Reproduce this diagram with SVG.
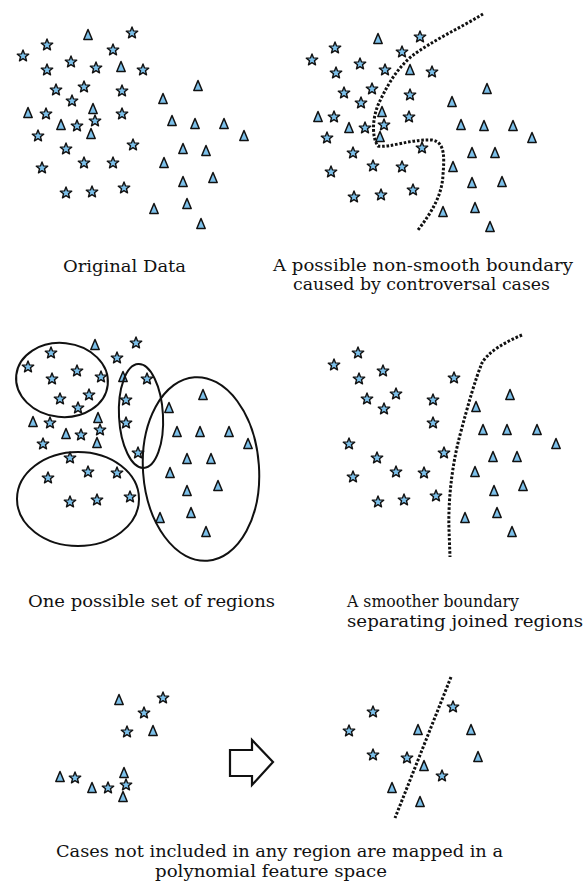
<svg xmlns="http://www.w3.org/2000/svg" xmlns:xlink="http://www.w3.org/1999/xlink" width="586" height="891" viewBox="0 0 586 891">
<style>
.cap{font-family:"DejaVu Serif","Liberation Serif",serif;font-size:16px;fill:#111}
.dots{fill:none;stroke:#111;stroke-width:3;stroke-dasharray:2.6 1.8}
.reg{fill:none;stroke:#111;stroke-width:2}
</style>
<defs>
<polygon id="s" points="0,-6 1.53,-2.1 5.71,-1.85 2.47,0.8 3.53,4.85 0,2.6 -3.53,4.85 -2.47,0.8 -5.71,-1.85 -1.53,-2.1" fill="#7cc0ea" stroke="#111" stroke-width="1.4" stroke-linejoin="round"/>
<polygon id="t" points="0,-5.5 4.2,4.5 -4.2,4.5" fill="#7cc0ea" stroke="#111" stroke-width="1.5" stroke-linejoin="round"/>
</defs>
<rect width="586" height="891" fill="#fff"/>

<g id="panel1">
<use href="#s" x="132" y="33"/><use href="#s" x="47" y="45"/><use href="#s" x="113" y="50"/><use href="#s" x="23" y="56"/><use href="#s" x="71" y="62"/><use href="#s" x="47" y="70"/><use href="#s" x="96" y="68"/><use href="#s" x="143" y="70"/><use href="#s" x="56" y="90"/><use href="#s" x="84" y="87"/><use href="#s" x="122" y="91"/><use href="#s" x="72" y="101"/><use href="#s" x="46" y="114"/><use href="#s" x="122" y="114"/><use href="#s" x="77" y="126"/><use href="#s" x="95" y="121"/><use href="#s" x="38" y="136"/><use href="#s" x="133" y="145"/><use href="#s" x="66" y="149"/><use href="#s" x="84" y="163"/><use href="#s" x="113" y="163"/><use href="#s" x="42" y="168"/><use href="#s" x="66" y="193"/><use href="#s" x="92" y="192"/><use href="#s" x="124" y="188"/>
<use href="#t" x="88" y="35"/><use href="#t" x="121" y="67"/><use href="#t" x="198" y="86"/><use href="#t" x="163" y="99"/><use href="#t" x="28" y="113"/><use href="#t" x="93" y="109"/><use href="#t" x="61" y="125"/><use href="#t" x="172" y="121"/><use href="#t" x="195" y="124"/><use href="#t" x="224" y="124"/><use href="#t" x="91" y="134"/><use href="#t" x="244" y="136"/><use href="#t" x="183" y="149"/><use href="#t" x="206" y="151"/><use href="#t" x="164" y="163"/><use href="#t" x="183" y="182"/><use href="#t" x="213" y="178"/><use href="#t" x="154" y="209"/><use href="#t" x="187" y="204"/><use href="#t" x="201" y="224"/>
<text class="cap" x="63" y="272" textLength="123" lengthAdjust="spacingAndGlyphs">Original Data</text>
</g>

<g id="panel2">
<use href="#s" x="420" y="37"/><use href="#s" x="335" y="48"/><use href="#s" x="402" y="52"/><use href="#s" x="312" y="60"/><use href="#s" x="360" y="64"/><use href="#s" x="336" y="73"/><use href="#s" x="385" y="70"/><use href="#s" x="432" y="72"/><use href="#s" x="344" y="93"/><use href="#s" x="372" y="89"/><use href="#s" x="410" y="95"/><use href="#s" x="361" y="103"/><use href="#s" x="334" y="117"/><use href="#s" x="409" y="117"/><use href="#s" x="365" y="128"/><use href="#s" x="384" y="125"/><use href="#s" x="327" y="138"/><use href="#s" x="422" y="148"/><use href="#s" x="353" y="153"/><use href="#s" x="373" y="166"/><use href="#s" x="402" y="167"/><use href="#s" x="331" y="172"/><use href="#s" x="354" y="197"/><use href="#s" x="381" y="195"/><use href="#s" x="413" y="190"/>
<use href="#t" x="378" y="39"/><use href="#t" x="410" y="70"/><use href="#t" x="487" y="89"/><use href="#t" x="452" y="102"/><use href="#t" x="318" y="117"/><use href="#t" x="382" y="112"/><use href="#t" x="349" y="128"/><use href="#t" x="461" y="125"/><use href="#t" x="484" y="126"/><use href="#t" x="513" y="126"/><use href="#t" x="380" y="137"/><use href="#t" x="532" y="138"/><use href="#t" x="472" y="153"/><use href="#t" x="495" y="153"/><use href="#t" x="453" y="167"/><use href="#t" x="472" y="183"/><use href="#t" x="502" y="182"/><use href="#t" x="443" y="212"/><use href="#t" x="475" y="208"/><use href="#t" x="490" y="227"/>
<text class="cap" x="273" y="271" textLength="300" lengthAdjust="spacingAndGlyphs">A possible non-smooth boundary</text>
<text class="cap" x="293" y="290" textLength="257" lengthAdjust="spacingAndGlyphs">caused by controversal cases</text>
</g>

<g id="panel3">
<use href="#s" x="136" y="343"/><use href="#s" x="51" y="353"/><use href="#s" x="117" y="358"/><use href="#s" x="28" y="367"/><use href="#s" x="77" y="371"/><use href="#s" x="52" y="379"/><use href="#s" x="101" y="377"/><use href="#s" x="147" y="379"/><use href="#s" x="60" y="399"/><use href="#s" x="89" y="395"/><use href="#s" x="126" y="400"/><use href="#s" x="78" y="408"/><use href="#s" x="50" y="423"/><use href="#s" x="126" y="423"/><use href="#s" x="81" y="435"/><use href="#s" x="100" y="430"/><use href="#s" x="43" y="444"/><use href="#s" x="138" y="453"/><use href="#s" x="70" y="458"/><use href="#s" x="88" y="472"/><use href="#s" x="117" y="473"/><use href="#s" x="48" y="478"/><use href="#s" x="70" y="502"/><use href="#s" x="97" y="500"/><use href="#s" x="130" y="497"/>
<use href="#t" x="95" y="345"/><use href="#t" x="123" y="377"/><use href="#t" x="203" y="395"/><use href="#t" x="169" y="408"/><use href="#t" x="33" y="422"/><use href="#t" x="98" y="418"/><use href="#t" x="66" y="434"/><use href="#t" x="177" y="432"/><use href="#t" x="200" y="432"/><use href="#t" x="229" y="432"/><use href="#t" x="97" y="443"/><use href="#t" x="248" y="444"/><use href="#t" x="187" y="459"/><use href="#t" x="211" y="459"/><use href="#t" x="170" y="473"/><use href="#t" x="187" y="491"/><use href="#t" x="218" y="486"/><use href="#t" x="160" y="518"/><use href="#t" x="191" y="513"/><use href="#t" x="206" y="532"/>
<ellipse class="reg" cx="62" cy="380" rx="46" ry="37" transform="rotate(6 62 380)"/>
<ellipse class="reg" cx="141" cy="416" rx="22" ry="52" transform="rotate(-3 141 416)"/>
<ellipse class="reg" cx="78" cy="499" rx="61" ry="47"/>
<ellipse class="reg" cx="201" cy="469" rx="58" ry="92" transform="rotate(-4 201 469)"/>
<text class="cap" x="28" y="607" textLength="247" lengthAdjust="spacingAndGlyphs">One possible set of regions</text>
</g>

<g id="panel4">
<use href="#s" x="358" y="353"/><use href="#s" x="334" y="365"/><use href="#s" x="383" y="371"/><use href="#s" x="359" y="379"/><use href="#s" x="454" y="378"/><use href="#s" x="367" y="399"/><use href="#s" x="396" y="394"/><use href="#s" x="384" y="409"/><use href="#s" x="433" y="400"/><use href="#s" x="433" y="423"/><use href="#s" x="349" y="444"/><use href="#s" x="444" y="453"/><use href="#s" x="377" y="458"/><use href="#s" x="396" y="472"/><use href="#s" x="424" y="473"/><use href="#s" x="353" y="477"/><use href="#s" x="378" y="502"/><use href="#s" x="404" y="500"/><use href="#s" x="436" y="496"/>
<use href="#t" x="510" y="395"/><use href="#t" x="476" y="407"/><use href="#t" x="483" y="430"/><use href="#t" x="507" y="430"/><use href="#t" x="537" y="430"/><use href="#t" x="556" y="444"/><use href="#t" x="493" y="457"/><use href="#t" x="517" y="457"/><use href="#t" x="475" y="472"/><use href="#t" x="494" y="491"/><use href="#t" x="523" y="486"/><use href="#t" x="465" y="518"/><use href="#t" x="497" y="513"/><use href="#t" x="512" y="532"/>
<text class="cap" x="347" y="607" textLength="172" lengthAdjust="spacingAndGlyphs">A smoother boundary</text>
<text class="cap" x="347" y="627" textLength="236" lengthAdjust="spacingAndGlyphs">separating joined regions</text>
</g>

<g id="panel5">
<use href="#t" x="119" y="700"/><use href="#t" x="153" y="731"/><use href="#t" x="60" y="777"/><use href="#t" x="92" y="788"/><use href="#t" x="124" y="773"/><use href="#t" x="123" y="797"/>
<use href="#s" x="163" y="698"/><use href="#s" x="144" y="713"/><use href="#s" x="127" y="732"/><use href="#s" x="75" y="778"/><use href="#s" x="108" y="788"/><use href="#s" x="126" y="785"/>
<polygon id="arrow" points="230,750 252,750 252,740 273,762 252,785 252,776 230,776" fill="#fff" stroke="#111" stroke-width="2.2" stroke-linejoin="miter"/>
<use href="#s" x="373" y="712"/><use href="#s" x="453" y="707"/><use href="#s" x="349" y="731"/><use href="#s" x="373" y="755"/><use href="#s" x="407" y="758"/><use href="#s" x="442" y="776"/>
<use href="#t" x="418" y="730"/><use href="#t" x="471" y="730"/><use href="#t" x="424" y="766"/><use href="#t" x="478" y="757"/><use href="#t" x="392" y="788"/><use href="#t" x="420" y="802"/>
<text class="cap" x="56" y="857" textLength="447" lengthAdjust="spacingAndGlyphs">Cases not included in any region are mapped in a</text>
<text class="cap" x="155" y="877" textLength="232" lengthAdjust="spacingAndGlyphs">polynomial feature space</text>
</g>

<g id="connectors">
<path class="dots" d="M483,14 C460,28 430,42 412,56 C395,70 385,90 378,105 C372,120 372,138 378,146 C390,148 410,139 432,140 C446,142 444,160 443,175 C442,195 432,212 418,230"/>
<path class="dots" d="M522,335 C505,342 488,352 482,363 C475,380 468,405 460,435 C452,465 448,500 449,530 L450,557"/>
<path class="dots" d="M451,677 L395,818"/>
</g>
</svg>
